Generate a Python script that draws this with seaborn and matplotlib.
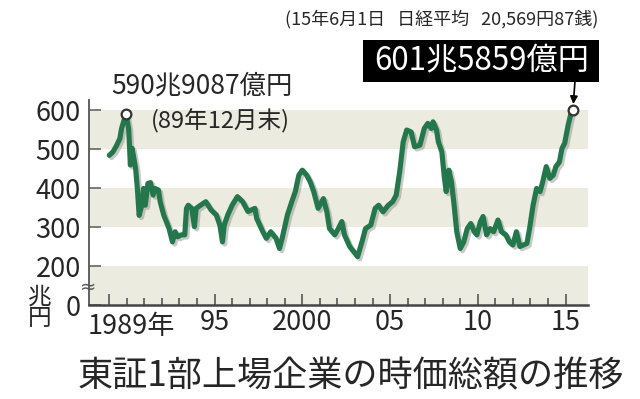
import matplotlib
matplotlib.use("Agg")
import matplotlib.pyplot as plt
import matplotlib.patheffects as pe
from matplotlib.patches import Rectangle
import seaborn as sns
import pandas as pd

# ---- data (decimal year, trillion yen) ----
years = [1989.0, 1989.21, 1989.4, 1989.6, 1989.7, 1989.9, 1989.95, 1990.1, 1990.15, 1990.2,
         1990.3, 1990.4, 1990.5, 1990.6, 1990.7, 1990.85, 1990.95, 1991.05, 1991.2, 1991.35,
         1991.5, 1991.6, 1991.8, 1991.9, 1992.1, 1992.4, 1992.6, 1992.75, 1992.9, 1993.1,
         1993.3, 1993.4, 1993.5, 1993.7, 1993.85, 1993.95, 1994.2, 1994.5, 1994.8, 1995.1,
         1995.3, 1995.45, 1995.55, 1995.75, 1996.0, 1996.3, 1996.6, 1996.9, 1997.3, 1997.4,
         1997.75, 1997.95, 1998.2, 1998.5, 1998.7, 1998.85, 1999.15, 1999.4, 1999.6, 1999.8,
         2000.0, 2000.25, 2000.45, 2000.65, 2000.9, 2001.2, 2001.4, 2001.55, 2001.85, 2002.05,
         2002.25, 2002.4, 2002.7, 2003.15, 2003.4, 2003.6, 2003.9, 2004.15, 2004.35, 2004.6,
         2004.9, 2005.15, 2005.35, 2005.55, 2005.75, 2005.95, 2006.2, 2006.4, 2006.7, 2006.95,
         2007.15, 2007.35, 2007.45, 2007.65, 2007.75, 2007.95, 2008.1, 2008.2, 2008.35, 2008.5,
         2008.65, 2008.8, 2009.0, 2009.2, 2009.4, 2009.6, 2009.8, 2009.95, 2010.15, 2010.3,
         2010.5, 2010.7, 2010.9, 2011.15, 2011.35, 2011.6, 2011.8, 2012.0, 2012.2, 2012.4,
         2012.6, 2012.8, 2012.95, 2013.15, 2013.35, 2013.55, 2013.7, 2013.9, 2014.1, 2014.3,
         2014.45, 2014.65, 2014.8, 2014.95, 2015.15, 2015.3, 2015.42]
values = [484, 493, 508, 527, 553, 583, 591, 553, 510, 459,
          502, 476, 450, 399, 330, 356, 399, 356, 412, 414,
          382, 399, 395, 365, 331, 297, 262, 288, 275, 280,
          280, 348, 356, 348, 301, 348, 356, 365, 344, 331,
          305, 262, 305, 331, 356, 378, 365, 340, 348, 322,
          288, 271, 288, 271, 245, 271, 331, 365, 391, 433,
          446, 433, 416, 391, 348, 373, 339, 296, 280, 296,
          314, 280, 250, 224, 262, 296, 305, 348, 356, 339,
          356, 365, 382, 442, 519, 549, 544, 506, 510, 553,
          566, 553, 570, 549, 519, 493, 425, 391, 446, 416,
          356, 288, 245, 262, 296, 309, 288, 280, 314, 327,
          280, 296, 288, 318, 288, 280, 262, 254, 288, 250,
          254, 258, 296, 356, 399, 391, 416, 455, 425, 433,
          455, 467, 502, 515, 562, 590, 601.6]
peak_year, peak_value = 1989.95, 590.9
last_year, last_value = 2015.42, 601.6

ytick_values = [100, 200, 300, 400, 500, 600]
ytick_labels = ["0", "200", "300", "400", "500", "600"]
xtick_major = [1989, 1995, 2000, 2005, 2010, 2015]
xtick_major_labels = ["", "95", "2000", "05", "10", "15"]
xtick_minor = [y for y in range(1989, 2016) if y not in xtick_major]
band_ranges = [(100, 200), (300, 400), (500, 600)]

title = "東証1部上場企業の時価総額の推移"
top_note = "(15年6月1日   日経平均   20,569円87銭)"
first_year_label = "1989年"
peak_label = "590兆9087億円"
peak_sub = "(89年12月末)"
last_label = "601兆5859億円"
unit_label = "兆\n円"

# ---- style ----
sns.set_theme(style="white")
plt.rcParams["font.family"] = ["Noto Sans CJK JP", "DejaVu Sans"]

W, H = 640, 399
fig = plt.figure(figsize=(6.4, 3.99), dpi=100)
ax = fig.add_axes([89.3 / W, 1 - 305 / H, (588 - 89.3) / W, (305 - 100) / H])


def fx(x):
    return x / W


def fy(y):
    return 1 - y / H


ax.set_xlim(1987.86, 2016.28)
ax.set_ylim(100, 626)

band_color = "#ebebdf"
for lo, hi in band_ranges:
    ax.axhspan(lo, hi, color=band_color, lw=0, zorder=0)

df = pd.DataFrame({"year": years, "value": values})
line_color = "#23774a"
sns.lineplot(data=df, x="year", y="value", ax=ax, color=line_color, lw=3.7,
             zorder=3, estimator=None, sort=False)
ln = ax.lines[-1]
ln.set_solid_joinstyle("round")
ln.set_path_effects([pe.SimpleLineShadow(offset=(1.6, -1.6), shadow_color="#888888", alpha=0.45),
                     pe.Normal()])

ax.plot([peak_year, last_year], [peak_value, last_value], "o", ms=7, mfc="white",
        mec="#333333", mew=1.6, zorder=5)

# spines
for s in ["top", "right"]:
    ax.spines[s].set_visible(False)
ax.spines["left"].set_color("#555555")
ax.spines["left"].set_linewidth(1.3)
ax.spines["bottom"].set_color("#444444")
ax.spines["bottom"].set_linewidth(1.8)

ax.set_yticks(ytick_values)
ax.set_yticklabels(ytick_labels)
ax.tick_params(axis="y", direction="in", length=8.5, width=1.2, color="#666666",
               labelsize=19.5, pad=6, left=True)
ax.set_xticks(xtick_major)
ax.set_xticklabels(xtick_major_labels)
ax.set_xticks(xtick_minor, minor=True)
ax.tick_params(axis="x", which="major", direction="in", length=8, width=1.2,
               color="#555555", labelsize=19.5, pad=3, bottom=True)
ax.tick_params(axis="x", which="minor", direction="in", length=5, width=1.2,
               color="#555555", bottom=True)
ax.set_xlabel("")
ax.set_ylabel("")
ax.grid(False)

# first year label
fig.text(fx(88), fy(327), first_year_label, fontsize=19.5, ha="left", va="center")
# unit label
fig.text(fx(40), fy(308), unit_label, fontsize=17, ha="center", va="center", linespacing=0.9)
# break mark
fig.text(fx(88), fy(287), "≈", fontsize=14, ha="center", va="center", color="#555555",
         family=["DejaVu Sans"])

# annotations
fig.text(fx(111), fy(86), peak_label, fontsize=19, ha="left", va="center")
fig.text(fx(151), fy(121), peak_sub, fontsize=17, ha="left", va="center")
fig.text(fx(598), fy(19), top_note, fontsize=13, ha="right", va="center")

# black label box with pointer
fig.patches.append(Rectangle((fx(363), fy(82)), fx(599) - fx(363), fy(40) - fy(82),
                             transform=fig.transFigure, fc="black", ec="none", zorder=6))
fig.text(fx(482), fy(61), last_label, fontsize=22.5, color="white", ha="center",
         va="center", zorder=7)
ax.annotate("", xy=(last_year, last_value), xycoords="data",
            xytext=(fx(575), fy(81)), textcoords="figure fraction",
            arrowprops=dict(arrowstyle="-|>", color="black", lw=1.2, mutation_scale=11,
                            shrinkA=0, shrinkB=4),
            zorder=6, annotation_clip=False)

fig.text(fx(351), fy(376), title, fontsize=25.3, ha="center", va="center")

fig.savefig("out.png", dpi=100)
